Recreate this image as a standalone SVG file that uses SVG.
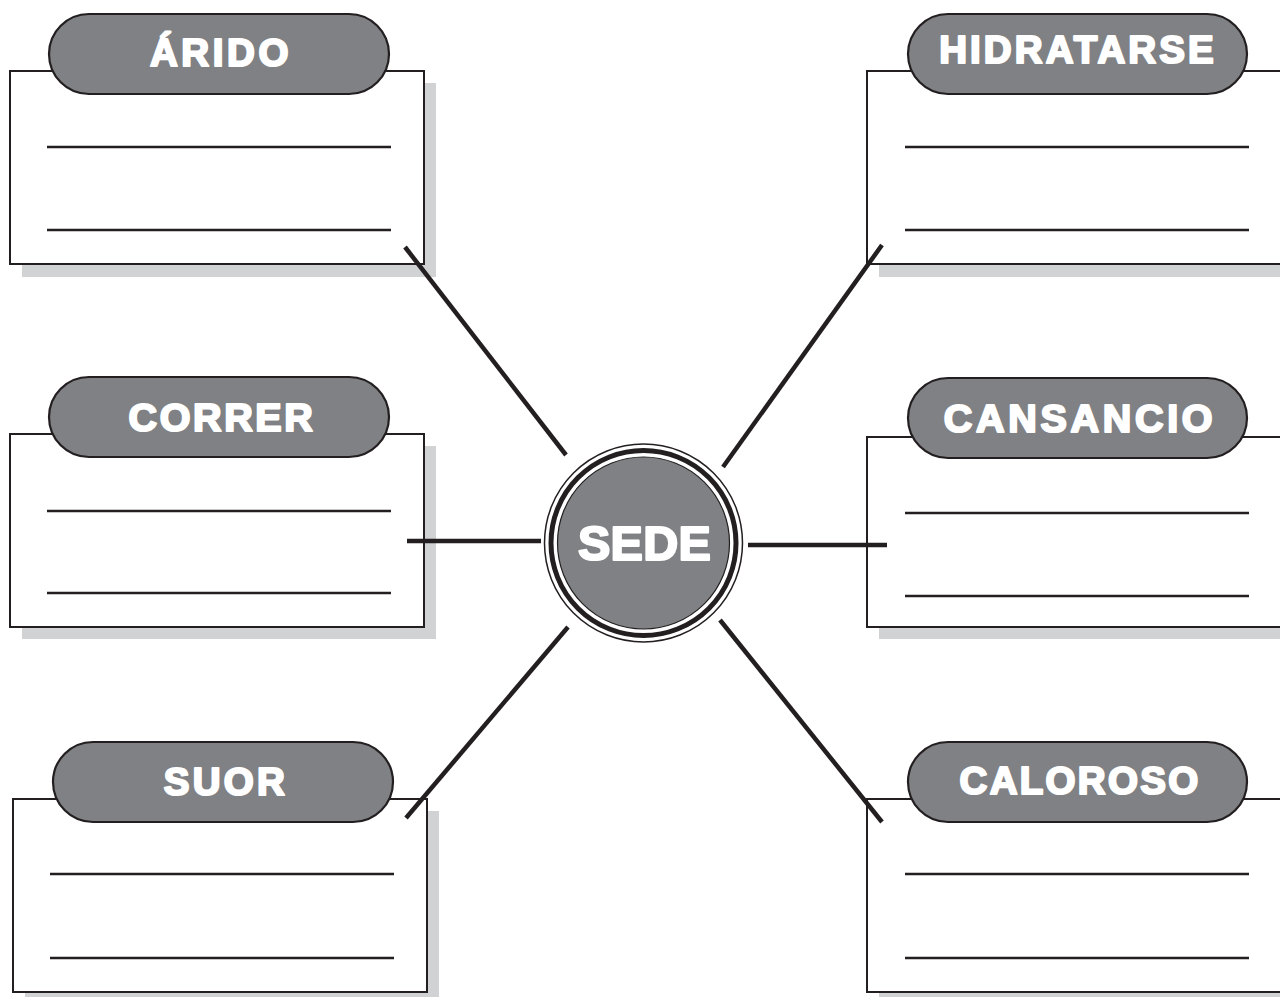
<svg xmlns="http://www.w3.org/2000/svg" width="1280" height="997" viewBox="0 0 1280 997">
<style>
.shadow{fill:#d1d2d4;stroke:none}
.box{fill:#fff;stroke:#231f20;stroke-width:2}
.pill{fill:#808184;stroke:#231f20;stroke-width:2.2}
.rule{stroke:#231f20;stroke-width:2.5;fill:none}
.lbl{font-family:"Liberation Sans",Arial,sans-serif;font-weight:bold;fill:#fff;stroke:#fff;stroke-width:2.2;stroke-linejoin:round;text-anchor:middle}
.conn{stroke:#231f20;stroke-width:4.5;fill:none}
</style>
<rect width="1280" height="997" fill="#fff"/>
<g id="node-arido">
<rect class="shadow" x="22" y="83" width="414" height="194"/>
<rect class="box" x="10" y="71" width="414" height="193"/>
<line class="rule" x1="47" y1="147" x2="391" y2="147"/>
<line class="rule" x1="47" y1="230" x2="391" y2="230"/>
<rect class="pill" x="49" y="14" width="340" height="80" rx="40"/>
<text class="lbl" x="221" y="65.5" font-size="38.5" letter-spacing="3.6">ÁRIDO</text>
</g>
<g id="node-correr">
<rect class="shadow" x="22" y="446" width="414" height="193"/>
<rect class="box" x="10" y="434" width="414" height="193"/>
<line class="rule" x1="47" y1="511" x2="391" y2="511"/>
<line class="rule" x1="47" y1="593" x2="391" y2="593"/>
<rect class="pill" x="49" y="377" width="340" height="80" rx="40"/>
<text class="lbl" x="222" y="430.5" font-size="39.5" letter-spacing="2.6">CORRER</text>
</g>
<g id="node-suor">
<rect class="shadow" x="25" y="811" width="414" height="193"/>
<rect class="box" x="13" y="799" width="414" height="193"/>
<line class="rule" x1="50" y1="874" x2="394" y2="874"/>
<line class="rule" x1="50" y1="958" x2="394" y2="958"/>
<rect class="pill" x="53" y="742" width="340" height="80" rx="40"/>
<text class="lbl" x="226" y="794.5" font-size="38.5" letter-spacing="3.3">SUOR</text>
</g>
<g id="node-hidratarse">
<rect class="shadow" x="879" y="83" width="420" height="194"/>
<rect class="box" x="867" y="71" width="430" height="193"/>
<line class="rule" x1="905" y1="147" x2="1249" y2="147"/>
<line class="rule" x1="905" y1="230" x2="1249" y2="230"/>
<rect class="pill" x="908" y="14" width="339" height="80" rx="40"/>
<text class="lbl" x="1078" y="62.5" font-size="38.5" letter-spacing="3.1">HIDRATARSE</text>
</g>
<g id="node-cansancio">
<rect class="shadow" x="879" y="449" width="420" height="190"/>
<rect class="box" x="867" y="437" width="430" height="190"/>
<line class="rule" x1="905" y1="513" x2="1249" y2="513"/>
<line class="rule" x1="905" y1="596" x2="1249" y2="596"/>
<rect class="pill" x="908" y="378" width="339" height="80" rx="40"/>
<text class="lbl" x="1080" y="431.5" font-size="39.5" letter-spacing="3.7">CANSANCIO</text>
</g>
<g id="node-caloroso">
<rect class="shadow" x="879" y="811" width="420" height="193"/>
<rect class="box" x="867" y="799" width="430" height="193"/>
<line class="rule" x1="905" y1="874" x2="1249" y2="874"/>
<line class="rule" x1="905" y1="958" x2="1249" y2="958"/>
<rect class="pill" x="908" y="742" width="339" height="80" rx="40"/>
<text class="lbl" x="1080" y="793.5" font-size="38.5" letter-spacing="2.3">CALOROSO</text>
</g>
<g id="connectors">
<line class="conn" x1="405" y1="247" x2="566" y2="455"/>
<line class="conn" x1="882" y1="245" x2="723" y2="467"/>
<line class="conn" x1="407" y1="541" x2="541" y2="541"/>
<line class="conn" x1="748" y1="545" x2="887" y2="545"/>
<line class="conn" x1="406" y1="818" x2="568" y2="627"/>
<line class="conn" x1="720" y1="620" x2="882" y2="822"/>
</g>
<g id="node-sede">
<circle cx="643.5" cy="543" r="99" fill="#fff" stroke="#231f20" stroke-width="1.5"/>
<circle cx="643.5" cy="543" r="92.5" fill="none" stroke="#231f20" stroke-width="5"/>
<circle cx="643.5" cy="543" r="86" fill="#808184" stroke="#231f20" stroke-width="1.2"/>
<text class="lbl" x="644.5" y="559.5" font-size="48.5" letter-spacing="0.2">SEDE</text>
</g>
</svg>
